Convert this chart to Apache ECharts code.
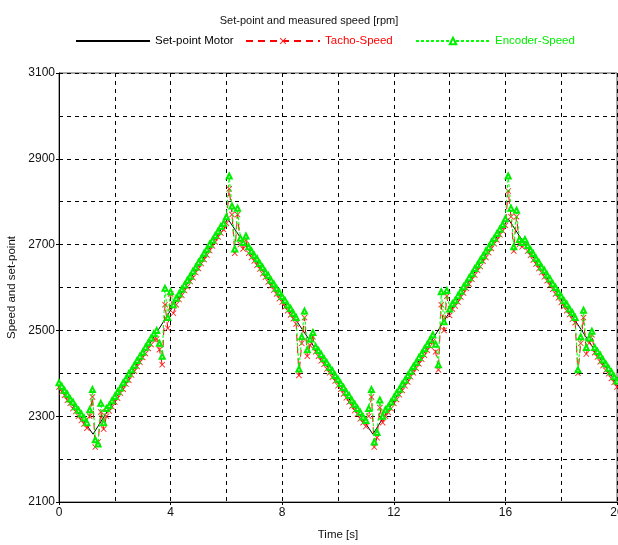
<!DOCTYPE html>
<html>
<head>
<meta charset="utf-8">
<script src="https://cdn.jsdelivr.net/npm/echarts@6/dist/echarts.min.js"></script>
<style>
html,body{margin:0;padding:0;background:#fff;}
#chart{width:618px;height:545px;}
</style>
</head>
<body>
<div id="chart"></div>
<script>
// ---- data ----
const setTimes  = [0, 1.22, 6.05, 11.25, 16.1, 20];
const setValues = [2372, 2258, 2760, 2258, 2760, 2375];

const sampleStep = 0.1; // seconds between measured samples (t = 0 .. 20)
const tachoSpeed = [
  2368,2357,2349,2337,2330,2318,2311,2300,2290,2282,
  2272,2300,2345,2228,2240,2310,2270,2300,2312,2322,
  2333,2342,2354,2363,2375,2384,2396,2405,2416,2426,
  2437,2446,2458,2467,2479,2480,2455,2420,2560,2505,
  2585,2540,2560,2572,2582,2593,2602,2614,2623,2635,
  2644,2656,2665,2676,2686,2697,2706,2718,2727,2735,
  2750,2830,2770,2680,2770,2700,2690,2710,2680,2670,
  2662,2652,2643,2632,2624,2613,2604,2594,2585,2574,
  2566,2555,2546,2536,2527,2515,2395,2470,2530,2440,
  2465,2485,2450,2440,2429,2421,2410,2401,2391,2382,
  2371,2363,2352,2343,2333,2324,2313,2305,2294,2285,
  2276,2300,2345,2228,2250,2320,2285,2300,2309,2318,
  2330,2339,2350,2360,2371,2380,2392,2401,2412,2422,
  2433,2442,2454,2463,2475,2450,2408,2560,2500,2580,
  2535,2550,2557,2566,2578,2587,2598,2608,2619,2629,
  2640,2649,2661,2670,2681,2691,2702,2711,2723,2732,
  2745,2825,2765,2685,2765,2700,2695,2700,2685,2675,
  2664,2655,2644,2635,2625,2616,2605,2596,2585,2576,
  2565,2556,2546,2537,2526,2518,2400,2470,2530,2445,
  2470,2490,2448,2438,2427,2418,2407,2399,2388,2379,
  2368
];
const encoderSpeed = [
  2378,2370,2360,2351,2340,2333,2322,2314,2305,2296,
  2285,2315,2362,2245,2235,2330,2285,2318,2325,2336,
  2346,2357,2366,2378,2387,2399,2408,2419,2430,2440,
  2449,2461,2471,2482,2492,2500,2470,2440,2598,2530,
  2590,2560,2575,2585,2596,2606,2617,2626,2638,2647,
  2659,2668,2680,2689,2701,2710,2721,2731,2742,2750,
  2765,2860,2790,2690,2785,2715,2705,2720,2695,2685,
  2675,2667,2656,2647,2636,2628,2617,2608,2598,2589,
  2579,2570,2559,2551,2540,2530,2410,2485,2545,2455,
  2480,2495,2462,2453,2444,2434,2425,2414,2406,2395,
  2386,2376,2367,2356,2348,2337,2328,2318,2309,2298,
  2290,2318,2362,2240,2262,2338,2300,2315,2322,2333,
  2343,2354,2363,2375,2384,2395,2405,2416,2425,2437,
  2446,2457,2467,2478,2490,2468,2420,2590,2520,2593,
  2550,2562,2570,2581,2591,2602,2611,2623,2632,2644,
  2653,2664,2674,2685,2694,2706,2715,2726,2736,2747,
  2760,2860,2785,2695,2780,2712,2705,2712,2698,2688,
  2679,2668,2659,2648,2640,2629,2620,2609,2600,2589,
  2580,2569,2561,2550,2541,2530,2408,2485,2547,2460,
  2482,2498,2460,2451,2442,2431,2422,2412,2403,2392,
  2382
];
const seriesNames = ['Set-point Motor', 'Tacho-Speed', 'Encoder-Speed'];
const titleText = 'Set-point and measured speed [rpm]';
const xName = 'Time [s]';
const yName = 'Speed and set-point';

// ---- chart ----
const FONT = "'Liberation Sans', Arial, sans-serif";
const crossPath = 'path://M0,1L1,0L5,4L9,0L10,1L6,5L10,9L9,10L5,6L1,10L0,9L4,5Z';

const chart = echarts.init(document.getElementById('chart'), null, {renderer: 'canvas'});
const setData = setTimes.map((t, i) => [t, setValues[i]]);
const tachoData = tachoSpeed.map((v, i) => [+(i * sampleStep).toFixed(1), v]);
const encData = encoderSpeed.map((v, i) => [+(i * sampleStep).toFixed(1), v]);

const legendBase = {
  top: 35, padding: 0, itemWidth: 74, itemHeight: 8, itemGap: 0,
  textStyle: {fontFamily: FONT, fontSize: 11.5}
};
const gridLine = {show: true, lineStyle: {color: '#000', type: [4, 4], width: 1}};

chart.setOption({
  animation: false,
  backgroundColor: '#fff',
  title: {
    text: titleText, left: 'center', top: 10,
    textStyle: {fontFamily: FONT, fontSize: 11, fontWeight: 'normal', color: '#111'}
  },
  legend: [
    Object.assign({}, legendBase, {left: 75, data: [{name: seriesNames[0], itemStyle: {opacity: 0}, textStyle: {color: '#000'}}]}),
    Object.assign({}, legendBase, {left: 245, data: [{name: seriesNames[1], textStyle: {color: '#ff0000'}}]}),
    Object.assign({}, legendBase, {left: 415, data: [{name: seriesNames[2], textStyle: {color: '#00ee00'}}]})
  ],
  grid: {left: 59, right: 1, top: 73, bottom: 43, outerBoundsMode: 'none', containLabel: false,
         show: true, borderColor: '#555', borderWidth: 1},
  xAxis: {
    type: 'value', min: 0, max: 20, interval: 4,
    name: xName, nameLocation: 'middle', nameGap: 27,
    nameTextStyle: {fontFamily: FONT, fontSize: 11.5, color: '#111'},
    axisLine: {show: true, lineStyle: {color: '#000', width: 1}},
    axisTick: {show: true, length: 3, lineStyle: {color: '#000'}},
    minorTick: {show: false, splitNumber: 2},
    axisLabel: {fontFamily: FONT, fontSize: 12, color: '#111', margin: 5,
                formatter: v => String(v), alignMaxLabel: 'center', alignMinLabel: 'center'},
    splitLine: gridLine,
    minorSplitLine: gridLine
  },
  yAxis: {
    type: 'value', min: 2100, max: 3100, interval: 200,
    name: yName, nameLocation: 'middle', nameGap: 34, nameRotate: 90,
    nameTextStyle: {fontFamily: FONT, fontSize: 11.5, color: '#111'},
    axisLine: {show: true, lineStyle: {color: '#000', width: 1}},
    axisTick: {show: true, length: 3, lineStyle: {color: '#000'}},
    minorTick: {show: false, splitNumber: 2},
    axisLabel: {fontFamily: FONT, fontSize: 12, color: '#111', margin: 4, formatter: v => String(v)},
    splitLine: gridLine,
    minorSplitLine: gridLine
  },
  series: [
    {
      name: seriesNames[0], type: 'line', data: setData,
      showSymbol: false, symbol: 'none',
      lineStyle: {color: '#000', width: 1}, itemStyle: {color: '#000'}, z: 2
    },
    {
      name: seriesNames[1], type: 'line', data: tachoData,
      symbol: crossPath, symbolSize: 6,
      lineStyle: {color: '#ff0000', width: 1, type: [7, 5]},
      itemStyle: {color: '#ff2020'}, z: 3
    },
    {
      name: seriesNames[2], type: 'line', data: encData,
      symbol: 'emptyTriangle', symbolSize: 5,
      lineStyle: {color: '#00ff00', width: 1, type: [3, 2]},
      itemStyle: {color: '#00ee00', borderColor: '#00ee00', borderWidth: 1}, z: 4
    }
  ]
});
</script>
</body>
</html>
